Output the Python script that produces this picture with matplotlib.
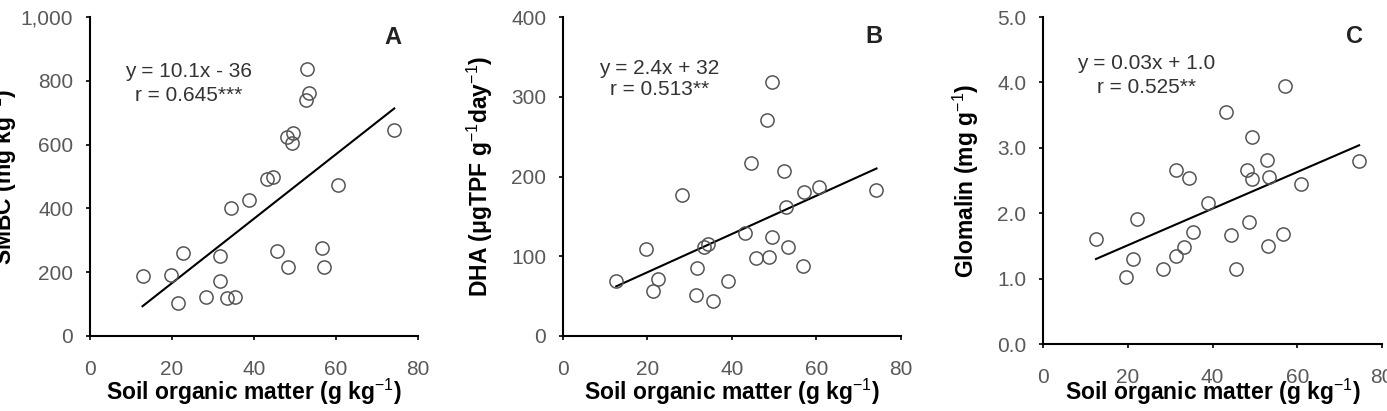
import numpy as np
import matplotlib
matplotlib.use("Agg")
import matplotlib.pyplot as plt
from matplotlib.ticker import FuncFormatter

plt.rcParams['font.family'] = ['Liberation Sans', 'DejaVu Sans']
plt.rcParams['mathtext.fontset'] = 'custom'
plt.rcParams['mathtext.rm'] = 'Liberation Sans'
plt.rcParams['mathtext.bf'] = 'Liberation Sans:bold'

# Soil organic matter (g/kg) and responses
som_a = [12.8, 19.7, 22.6, 21.5, 28.3, 31.6, 31.6, 33.5, 35.3, 34.5, 38.8, 43.1, 44.7,
         45.5, 48.4, 48.1, 49.6, 49.2, 52.6, 53.4, 53.0, 56.5, 57.0, 60.6, 74.2]
smbc = [188, 190, 259, 104, 121, 252, 173, 118, 121, 400, 426, 491, 497,
        266, 215, 624, 637, 605, 741, 762, 836, 275, 217, 473, 647]

som_b = [12.6, 19.6, 21.3, 22.5, 28.2, 31.7, 31.6, 33.4, 34.4, 35.4, 39.1, 43.1, 44.5,
         45.6, 48.7, 48.2, 49.4, 49.4, 52.4, 52.8, 53.2, 56.8, 57.1, 60.7, 74.2]
dha = [69, 109, 56, 72, 177, 85, 51, 111, 116, 44, 69, 129, 217,
       98, 99, 271, 319, 124, 207, 162, 111, 88, 181, 187, 183]

som_c = [12.5, 19.5, 21.3, 22.2, 28.4, 31.4, 31.5, 33.3, 34.4, 35.3, 38.9, 43.2, 44.4,
         45.5, 48.5, 48.1, 49.4, 49.3, 52.8, 53.0, 53.3, 56.7, 57.1, 60.8, 74.6]
glomalin = [1.61, 1.03, 1.30, 1.91, 1.14, 1.34, 2.66, 1.48, 2.54, 1.71, 2.15, 3.55, 1.66,
            1.15, 1.86, 2.66, 2.53, 3.16, 2.81, 1.50, 2.56, 1.68, 3.95, 2.45, 2.80]

# regression lines (slope, intercept) as drawn
fit_a = (10.1, -36)
fit_b = (2.4, 32)
fit_c = (0.028, 0.95)

gray = '#555555'
tick_gray = '#595959'

fig = plt.figure(figsize=(13.87, 4.11), dpi=100)

panels = [
    dict(rect=[0.0649, 0.1825, 0.2365, 0.776], x=som_a, y=smbc, fit=fit_a,
         ylim=(0, 1000), yticks=np.arange(0, 1001, 200),
         fmt=lambda v, p: f"{int(v):,}",
         ylabel=r'SMBC (mg kg$^{-1}$)', ylab_x=-0.262,
         eq='y = 10.1x - 36', r='r = 0.645***', eq_pos=(24, 828), r_pos=(24, 755),
         letter='A', letter_pos=(73.9, 937), xlab_y=-0.176),
    dict(rect=[0.4059, 0.1825, 0.2437, 0.776], x=som_b, y=dha, fit=fit_b,
         ylim=(0, 400), yticks=np.arange(0, 401, 100),
         fmt=lambda v, p: f"{int(v)}",
         ylabel=r'DHA (μgTPF g$^{-1}$day$^{-1}$)', ylab_x=-0.245,
         eq='y = 2.4x + 32', r='r = 0.513**', eq_pos=(22.8, 336), r_pos=(22.8, 309),
         letter='B', letter_pos=(73.5, 376), xlab_y=-0.176),
    dict(rect=[0.752, 0.163, 0.2444, 0.7956], x=som_c, y=glomalin, fit=fit_c,
         ylim=(0, 5), yticks=np.arange(0, 5.01, 1.0),
         fmt=lambda v, p: f"{v:.1f}",
         ylabel=r'Glomalin (mg g$^{-1}$)', ylab_x=-0.227,
         eq='y = 0.03x + 1.0', r='r = 0.525**', eq_pos=(24.4, 4.29), r_pos=(24.4, 3.92),
         letter='C', letter_pos=(73.5, 4.70), xlab_y=-0.147),
]

for p in panels:
    ax = fig.add_axes(p['rect'])
    ax.plot(p['x'], p['y'], 'o', mfc='none', mec=gray, mew=1.1, ms=9.5, zorder=3)
    xs = np.array([min(p['x']), max(p['x'])])
    ax.plot(xs, p['fit'][0] * xs + p['fit'][1], color='black', lw=1.5, zorder=2)

    ax.set_xlim(0, 80)
    ax.set_ylim(*p['ylim'])
    ax.set_xticks([0, 20, 40, 60, 80])
    ax.set_yticks(p['yticks'])
    ax.yaxis.set_major_formatter(FuncFormatter(p['fmt']))

    for s in ['top', 'right']:
        ax.spines[s].set_visible(False)
    for s in ['left', 'bottom']:
        ax.spines[s].set_linewidth(1.5)
    ax.tick_params(direction='out', length=3, width=1.2, labelsize=15,
                   labelcolor=tick_gray)
    ax.tick_params(axis='x', pad=14)
    ax.tick_params(axis='y', pad=9)

    ax.set_xlabel(r'Soil organic matter (g kg$^{-1}$)', fontsize=16.5, fontweight='bold')
    ax.xaxis.set_label_coords(0.5, p['xlab_y'])
    ax.xaxis.label.set_va('center')
    ax.set_ylabel(p['ylabel'], fontsize=16.5, fontweight='bold')
    ax.yaxis.set_label_coords(p['ylab_x'], 0.5)
    ax.yaxis.label.set_va('center')

    ax.text(*p['eq_pos'], p['eq'], ha='center', va='center', fontsize=15, color='#333333')
    ax.text(*p['r_pos'], p['r'], ha='center', va='center', fontsize=15, color='#333333')
    ax.text(*p['letter_pos'], p['letter'], ha='center', va='center', fontsize=17,
            fontweight='bold', color='#222222')

fig.savefig('out.png', dpi=100)
